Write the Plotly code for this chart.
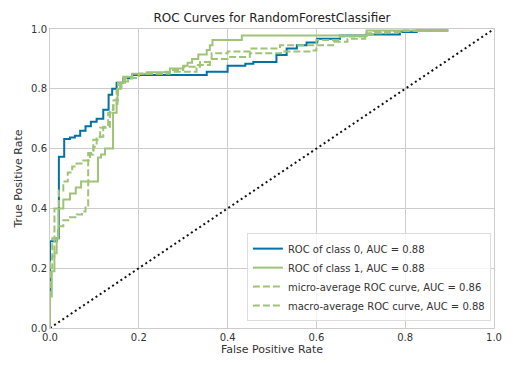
import plotly.graph_objects as go

# ---- data ----
class0_fpr = [0, 0, 0.015, 0.015, 0.02, 0.02, 0.032, 0.032, 0.045, 0.045, 0.056, 0.056, 0.068, 0.068,
              0.08, 0.08, 0.092, 0.092, 0.105, 0.105, 0.12, 0.12, 0.132, 0.132, 0.14, 0.14, 0.15, 0.15,
              0.165, 0.165, 0.185, 0.185, 0.353, 0.353, 0.40, 0.40, 0.44, 0.44, 0.458, 0.458, 0.51, 0.51,
              0.533, 0.533, 0.556, 0.556, 0.578, 0.578, 0.602, 0.602, 0.653, 0.653, 0.713, 0.713,
              0.788, 0.788, 0.826, 0.826, 0.897]
class0_tpr = [0, 0.29, 0.29, 0.30, 0.30, 0.573, 0.573, 0.632, 0.632, 0.637, 0.637, 0.643, 0.643, 0.66,
              0.66, 0.675, 0.675, 0.69, 0.69, 0.70, 0.70, 0.73, 0.73, 0.78, 0.78, 0.80, 0.80, 0.82,
              0.82, 0.835, 0.835, 0.846, 0.846, 0.857, 0.857, 0.877, 0.877, 0.884, 0.884, 0.89, 0.89, 0.913,
              0.913, 0.935, 0.935, 0.946, 0.946, 0.955, 0.955, 0.967, 0.967, 0.978, 0.978, 0.982,
              0.982, 0.99, 0.99, 0.995, 0.995]

class1_fpr = [0, 0, 0.004, 0.004, 0.01, 0.01, 0.015, 0.015, 0.019, 0.019, 0.03, 0.03, 0.045, 0.045,
              0.058, 0.058, 0.07, 0.07, 0.108, 0.108, 0.115, 0.115, 0.124, 0.124, 0.142, 0.142, 0.150,
              0.150, 0.152, 0.152, 0.158, 0.158, 0.165, 0.165, 0.185, 0.185, 0.218, 0.218, 0.27, 0.27,
              0.30, 0.30, 0.31, 0.31, 0.32, 0.32, 0.334, 0.334, 0.353, 0.353, 0.36, 0.36, 0.366, 0.366,
              0.432, 0.432, 0.713, 0.713, 0.897]
class1_tpr = [0, 0.105, 0.105, 0.19, 0.19, 0.25, 0.25, 0.30, 0.30, 0.40, 0.40, 0.43, 0.43, 0.45,
              0.45, 0.47, 0.47, 0.49, 0.49, 0.57, 0.57, 0.58, 0.58, 0.60, 0.60, 0.72, 0.72,
              0.75, 0.75, 0.80, 0.80, 0.82, 0.82, 0.84, 0.84, 0.85, 0.85, 0.855, 0.855, 0.868,
              0.868, 0.877, 0.877, 0.887, 0.887, 0.90, 0.90, 0.915, 0.915, 0.93, 0.93, 0.946, 0.946, 0.963,
              0.963, 0.978, 0.978, 0.995, 0.995]

micro_fpr = [0, 0, 0.005, 0.005, 0.01, 0.01, 0.018, 0.018, 0.03, 0.03, 0.045, 0.045, 0.06, 0.06,
             0.072, 0.072, 0.08, 0.08, 0.086, 0.086, 0.098, 0.098, 0.105, 0.105, 0.12, 0.12, 0.135,
             0.135, 0.143, 0.143, 0.153, 0.153, 0.169, 0.169, 0.2, 0.2, 0.26, 0.26, 0.33, 0.33, 0.36,
             0.36, 0.40, 0.40, 0.45, 0.45, 0.52, 0.52, 0.59, 0.59, 0.60, 0.60, 0.64, 0.64, 0.67, 0.67,
             0.71, 0.71, 0.73, 0.73, 0.79, 0.79, 0.897]
micro_tpr = [0, 0.2, 0.2, 0.24, 0.24, 0.30, 0.30, 0.34, 0.34, 0.36, 0.36, 0.37, 0.37, 0.38,
             0.38, 0.39, 0.39, 0.41, 0.41, 0.585, 0.585, 0.606, 0.606, 0.64, 0.64, 0.673, 0.673,
             0.73, 0.73, 0.762, 0.762, 0.82, 0.82, 0.836, 0.836, 0.85, 0.85, 0.857, 0.857, 0.88, 0.88,
             0.90, 0.90, 0.906, 0.906, 0.919, 0.919, 0.925, 0.925, 0.928, 0.928, 0.946, 0.946, 0.957, 0.957,
             0.967, 0.967, 0.98, 0.98, 0.99, 0.99, 0.995, 0.995]

macro_fpr = [0, 0, 0.005, 0.005, 0.01, 0.01, 0.02, 0.02, 0.03, 0.03, 0.04, 0.04, 0.05, 0.05, 0.06,
             0.06, 0.075, 0.075, 0.09, 0.09, 0.0975, 0.0975, 0.113, 0.113, 0.131, 0.131, 0.142, 0.142,
             0.150, 0.150, 0.161, 0.161, 0.176, 0.176, 0.2, 0.2, 0.27, 0.27, 0.30, 0.30, 0.338, 0.338,
             0.364, 0.364, 0.40, 0.40, 0.45, 0.45, 0.518, 0.518, 0.60, 0.60, 0.653, 0.653, 0.713, 0.713,
             0.755, 0.755, 0.83]
macro_tpr = [0, 0.22, 0.22, 0.30, 0.30, 0.40, 0.40, 0.46, 0.46, 0.49, 0.49, 0.52, 0.52, 0.54, 0.54,
             0.55, 0.55, 0.56, 0.56, 0.58, 0.58, 0.63, 0.63, 0.67, 0.67, 0.72, 0.72, 0.745,
             0.745, 0.796, 0.796, 0.824, 0.824, 0.836, 0.836, 0.85, 0.85, 0.863, 0.863, 0.874, 0.874, 0.89,
             0.89, 0.919, 0.919, 0.925, 0.925, 0.935, 0.935, 0.946, 0.946, 0.963, 0.963, 0.975, 0.975, 0.986,
             0.986, 0.993, 0.993]

diag = [0, 1]

labels = ["ROC of class 0, AUC = 0.88", "ROC of class 1, AUC = 0.88",
          "micro-average ROC curve, AUC = 0.86", "macro-average ROC curve, AUC = 0.88"]
ticks = [0.0, 0.2, 0.4, 0.6, 0.8, 1.0]
tick_text = ["0.0", "0.2", "0.4", "0.6", "0.8", "1.0"]

BLUE = "#0272a2"
GREEN = "#9fc377"

fig = go.Figure()
fig.add_trace(go.Scatter(x=diag, y=diag, mode="lines", showlegend=False,
                         line=dict(color="#111111", width=2, dash="2px,3px")))
fig.add_trace(go.Scatter(x=class0_fpr, y=class0_tpr, mode="lines", name=labels[0],
                         line=dict(color=BLUE, width=2)))
fig.add_trace(go.Scatter(x=class1_fpr, y=class1_tpr, mode="lines", name=labels[1],
                         line=dict(color=GREEN, width=2)))
fig.add_trace(go.Scatter(x=micro_fpr, y=micro_tpr, mode="lines", name=labels[2],
                         line=dict(color=GREEN, width=2, dash="7px,3px")))
fig.add_trace(go.Scatter(x=macro_fpr, y=macro_tpr, mode="lines", name=labels[3],
                         line=dict(color=GREEN, width=2, dash="7px,3px")))

axis_common = dict(range=[0, 1], tickvals=ticks, ticktext=tick_text, showgrid=True,
                   gridcolor="#cccccc", gridwidth=1, zeroline=False, showline=True, mirror=True,
                   linecolor="#cccccc", linewidth=1, ticks="", automargin=False,
                   tickfont=dict(size=10, color="#333333"))

fig.update_layout(
    width=513, height=366,
    margin=dict(l=50, r=19, t=29, b=38, autoexpand=False),
    paper_bgcolor="white", plot_bgcolor="white",
    font=dict(family="DejaVu Sans", color="#333333"),
    title=dict(text="ROC Curves for RandomForestClassifier", x=272 / 513, xanchor="center",
               y=1 - 18 / 366, yanchor="middle", yref="container", automargin=False,
               font=dict(size=12, color="#222222")),
    xaxis=dict(title=dict(text="False Positive Rate", font=dict(size=11), standoff=2), **axis_common),
    yaxis=dict(title=dict(text="True Positive Rate", font=dict(size=11), standoff=6), **axis_common),
    legend=dict(x=0.993, y=0.023, xanchor="right", yanchor="bottom",
                bgcolor="rgba(255,255,255,0.8)", bordercolor="#dddddd", borderwidth=1,
                font=dict(size=10, color="#333333"), tracegroupgap=0, itemwidth=30),
    showlegend=True,
)

fig.write_html("out.html", config={"displayModeBar": False},
               post_script="document.body.style.margin='0';")
